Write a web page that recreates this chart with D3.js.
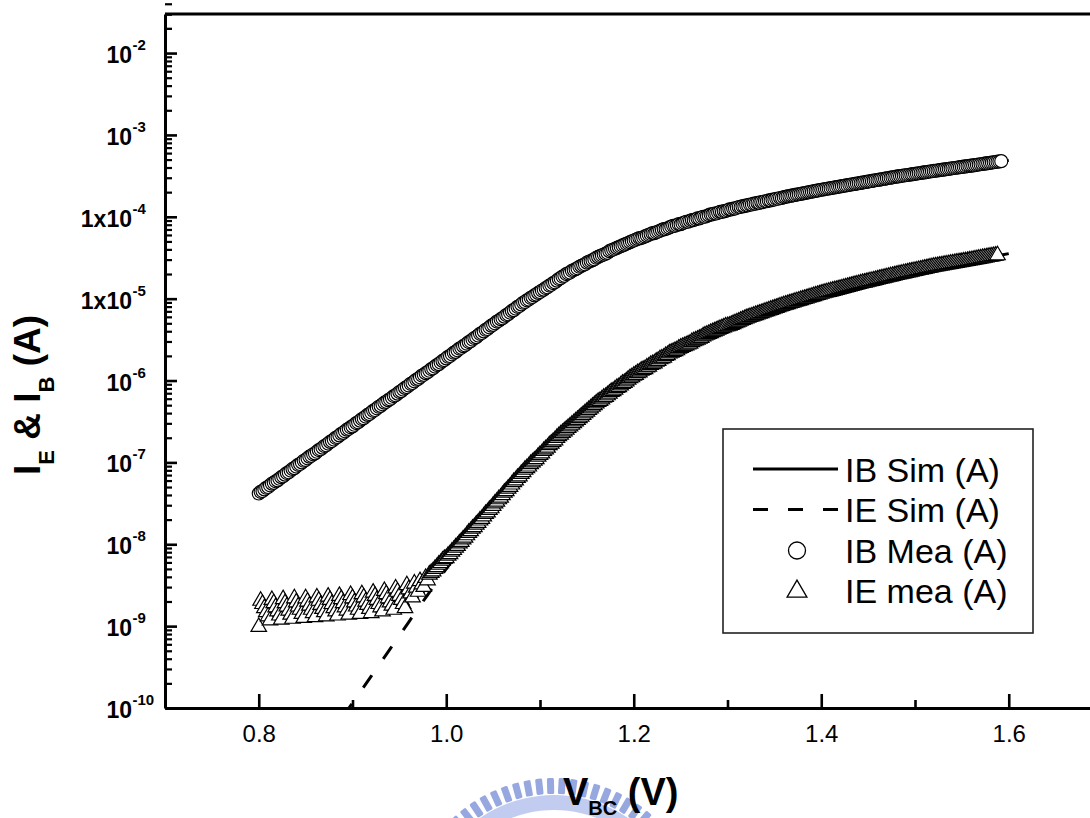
<!DOCTYPE html>
<html>
<head>
<meta charset="utf-8">
<script src="https://cdn.jsdelivr.net/npm/d3@7"></script>
<style>
  body { margin: 0; background: #fff; }
  svg { display: block; }
  text { font-family: "Liberation Sans", Arial, Helvetica, sans-serif; }
</style>
</head>
<body>
<svg id="chart" width="1090" height="818"></svg>
<script>
// Measured sweep: base-collector voltage (V), 2 mV steps
const voltage = [
  0.800,0.802,0.804,0.806,0.808,0.810,0.812,0.814,0.816,0.818,0.820,0.822,0.824,0.826,0.828,0.830,0.832,0.834,0.836,0.838,
  0.840,0.842,0.844,0.846,0.848,0.850,0.852,0.854,0.856,0.858,0.860,0.862,0.864,0.866,0.868,0.870,0.872,0.874,0.876,0.878,
  0.880,0.882,0.884,0.886,0.888,0.890,0.892,0.894,0.896,0.898,0.900,0.902,0.904,0.906,0.908,0.910,0.912,0.914,0.916,0.918,
  0.920,0.922,0.924,0.926,0.928,0.930,0.932,0.934,0.936,0.938,0.940,0.942,0.944,0.946,0.948,0.950,0.952,0.954,0.956,0.958,
  0.960,0.962,0.964,0.966,0.968,0.970,0.972,0.974,0.976,0.978,0.980,0.982,0.984,0.986,0.988,0.990,0.992,0.994,0.996,0.998,
  1.000,1.002,1.004,1.006,1.008,1.010,1.012,1.014,1.016,1.018,1.020,1.022,1.024,1.026,1.028,1.030,1.032,1.034,1.036,1.038,
  1.040,1.042,1.044,1.046,1.048,1.050,1.052,1.054,1.056,1.058,1.060,1.062,1.064,1.066,1.068,1.070,1.072,1.074,1.076,1.078,
  1.080,1.082,1.084,1.086,1.088,1.090,1.092,1.094,1.096,1.098,1.100,1.102,1.104,1.106,1.108,1.110,1.112,1.114,1.116,1.118,
  1.120,1.122,1.124,1.126,1.128,1.130,1.132,1.134,1.136,1.138,1.140,1.142,1.144,1.146,1.148,1.150,1.152,1.154,1.156,1.158,
  1.160,1.162,1.164,1.166,1.168,1.170,1.172,1.174,1.176,1.178,1.180,1.182,1.184,1.186,1.188,1.190,1.192,1.194,1.196,1.198,
  1.200,1.202,1.204,1.206,1.208,1.210,1.212,1.214,1.216,1.218,1.220,1.222,1.224,1.226,1.228,1.230,1.232,1.234,1.236,1.238,
  1.240,1.242,1.244,1.246,1.248,1.250,1.252,1.254,1.256,1.258,1.260,1.262,1.264,1.266,1.268,1.270,1.272,1.274,1.276,1.278,
  1.280,1.282,1.284,1.286,1.288,1.290,1.292,1.294,1.296,1.298,1.300,1.302,1.304,1.306,1.308,1.310,1.312,1.314,1.316,1.318,
  1.320,1.322,1.324,1.326,1.328,1.330,1.332,1.334,1.336,1.338,1.340,1.342,1.344,1.346,1.348,1.350,1.352,1.354,1.356,1.358,
  1.360,1.362,1.364,1.366,1.368,1.370,1.372,1.374,1.376,1.378,1.380,1.382,1.384,1.386,1.388,1.390,1.392,1.394,1.396,1.398,
  1.400,1.402,1.404,1.406,1.408,1.410,1.412,1.414,1.416,1.418,1.420,1.422,1.424,1.426,1.428,1.430,1.432,1.434,1.436,1.438,
  1.440,1.442,1.444,1.446,1.448,1.450,1.452,1.454,1.456,1.458,1.460,1.462,1.464,1.466,1.468,1.470,1.472,1.474,1.476,1.478,
  1.480,1.482,1.484,1.486,1.488,1.490,1.492,1.494,1.496,1.498,1.500,1.502,1.504,1.506,1.508,1.510,1.512,1.514,1.516,1.518,
  1.520,1.522,1.524,1.526,1.528,1.530,1.532,1.534,1.536,1.538,1.540,1.542,1.544,1.546,1.548,1.550,1.552,1.554,1.556,1.558,
  1.560,1.562,1.564,1.566,1.568,1.570,1.572,1.574,1.576,1.578,1.580,1.582,1.584,1.586,1.588,1.590,1.592
];

// Measured base current, log10(A)
const ibMeaLog = [
  -7.38,-7.36,-7.35,-7.33,-7.31,-7.30,-7.28,-7.26,-7.25,-7.23,-7.22,-7.20,-7.18,-7.17,-7.15,-7.13,-7.12,-7.10,-7.08,-7.07,
  -7.05,-7.03,-7.02,-7.00,-6.98,-6.97,-6.95,-6.93,-6.92,-6.90,-6.89,-6.87,-6.85,-6.84,-6.82,-6.80,-6.79,-6.77,-6.75,-6.74,
  -6.72,-6.70,-6.69,-6.67,-6.65,-6.64,-6.62,-6.60,-6.59,-6.57,-6.56,-6.54,-6.52,-6.51,-6.49,-6.47,-6.46,-6.44,-6.42,-6.41,
  -6.39,-6.37,-6.36,-6.34,-6.32,-6.31,-6.29,-6.27,-6.26,-6.24,-6.23,-6.21,-6.19,-6.18,-6.16,-6.14,-6.13,-6.11,-6.09,-6.08,
  -6.06,-6.04,-6.03,-6.01,-5.99,-5.98,-5.96,-5.94,-5.93,-5.91,-5.90,-5.88,-5.86,-5.85,-5.83,-5.81,-5.80,-5.78,-5.76,-5.75,
  -5.73,-5.71,-5.70,-5.68,-5.66,-5.65,-5.63,-5.61,-5.60,-5.58,-5.57,-5.55,-5.53,-5.52,-5.50,-5.48,-5.47,-5.45,-5.43,-5.42,
  -5.40,-5.38,-5.37,-5.35,-5.33,-5.32,-5.30,-5.28,-5.27,-5.25,-5.24,-5.22,-5.20,-5.19,-5.17,-5.15,-5.14,-5.12,-5.10,-5.09,
  -5.07,-5.05,-5.04,-5.02,-5.01,-4.99,-4.98,-4.96,-4.95,-4.93,-4.92,-4.90,-4.89,-4.87,-4.86,-4.84,-4.83,-4.81,-4.80,-4.78,
  -4.76,-4.75,-4.73,-4.72,-4.70,-4.69,-4.68,-4.66,-4.65,-4.64,-4.63,-4.61,-4.60,-4.59,-4.58,-4.56,-4.55,-4.54,-4.53,-4.52,
  -4.50,-4.49,-4.48,-4.47,-4.46,-4.45,-4.44,-4.42,-4.41,-4.40,-4.39,-4.38,-4.37,-4.36,-4.35,-4.34,-4.33,-4.32,-4.31,-4.30,
  -4.29,-4.28,-4.27,-4.26,-4.26,-4.25,-4.24,-4.23,-4.22,-4.21,-4.20,-4.20,-4.19,-4.18,-4.17,-4.16,-4.15,-4.15,-4.14,-4.13,
  -4.12,-4.11,-4.11,-4.10,-4.09,-4.09,-4.08,-4.07,-4.06,-4.06,-4.05,-4.04,-4.04,-4.03,-4.02,-4.02,-4.01,-4.00,-4.00,-3.99,
  -3.98,-3.97,-3.97,-3.96,-3.96,-3.95,-3.94,-3.94,-3.93,-3.93,-3.92,-3.91,-3.91,-3.90,-3.90,-3.89,-3.88,-3.88,-3.87,-3.87,
  -3.86,-3.86,-3.85,-3.85,-3.84,-3.84,-3.83,-3.83,-3.82,-3.82,-3.81,-3.81,-3.80,-3.80,-3.79,-3.79,-3.78,-3.78,-3.77,-3.77,
  -3.760,-3.756,-3.751,-3.747,-3.742,-3.738,-3.733,-3.729,-3.724,-3.720,-3.715,-3.711,-3.706,-3.702,-3.697,-3.693,-3.688,-3.684,-3.679,-3.675,
  -3.670,-3.666,-3.662,-3.658,-3.654,-3.650,-3.646,-3.642,-3.638,-3.634,-3.630,-3.626,-3.622,-3.618,-3.614,-3.610,-3.606,-3.602,-3.598,-3.594,
  -3.590,-3.586,-3.582,-3.578,-3.574,-3.570,-3.566,-3.562,-3.558,-3.554,-3.550,-3.546,-3.542,-3.538,-3.534,-3.530,-3.526,-3.522,-3.518,-3.514,
  -3.510,-3.507,-3.503,-3.500,-3.496,-3.493,-3.489,-3.486,-3.482,-3.479,-3.475,-3.472,-3.468,-3.465,-3.461,-3.458,-3.454,-3.451,-3.447,-3.444,
  -3.440,-3.437,-3.434,-3.430,-3.427,-3.424,-3.420,-3.417,-3.414,-3.411,-3.407,-3.404,-3.401,-3.398,-3.394,-3.391,-3.388,-3.385,-3.381,-3.378,
  -3.375,-3.372,-3.368,-3.365,-3.361,-3.358,-3.355,-3.351,-3.348,-3.344,-3.341,-3.338,-3.334,-3.331,-3.327,-3.324,-3.320
];

// Measured emitter current, log10(A)
const ieMeaLog = [
  -9.01,-8.69,-8.73,-8.78,-8.83,-8.88,-8.93,-8.68,-8.72,-8.77,-8.82,-8.87,-8.92,-8.67,-8.72,-8.76,-8.81,-8.86,-8.91,-8.66,
  -8.71,-8.76,-8.80,-8.85,-8.90,-8.66,-8.70,-8.75,-8.80,-8.84,-8.89,-8.65,-8.69,-8.74,-8.79,-8.83,-8.88,-8.64,-8.68,-8.73,
  -8.78,-8.82,-8.87,-8.63,-8.67,-8.72,-8.77,-8.81,-8.86,-8.62,-8.66,-8.71,-8.76,-8.80,-8.85,-8.61,-8.65,-8.70,-8.74,-8.79,
  -8.84,-8.59,-8.63,-8.68,-8.73,-8.77,-8.82,-8.57,-8.61,-8.66,-8.71,-8.75,-8.80,-8.54,-8.58,-8.63,-8.68,-8.73,-8.78,-8.50,
  -8.55,-8.60,-8.65,-8.48,-8.53,-8.58,-8.45,-8.49,-8.52,-8.41,-8.44,-8.37,-8.35,-8.33,-8.30,-8.28,-8.25,-8.23,-8.20,-8.18,
  -8.17,-8.14,-8.12,-8.09,-8.07,-8.04,-8.02,-7.99,-7.97,-7.94,-7.92,-7.89,-7.86,-7.84,-7.81,-7.79,-7.76,-7.74,-7.71,-7.69,
  -7.66,-7.63,-7.61,-7.58,-7.56,-7.53,-7.50,-7.48,-7.45,-7.43,-7.40,-7.37,-7.35,-7.32,-7.30,-7.27,-7.24,-7.22,-7.19,-7.17,
  -7.14,-7.12,-7.09,-7.07,-7.05,-7.02,-7.00,-6.98,-6.96,-6.93,-6.91,-6.89,-6.86,-6.84,-6.82,-6.79,-6.77,-6.75,-6.73,-6.70,
  -6.68,-6.66,-6.64,-6.62,-6.60,-6.58,-6.56,-6.54,-6.52,-6.50,-6.48,-6.46,-6.44,-6.42,-6.40,-6.38,-6.36,-6.34,-6.32,-6.30,
  -6.28,-6.26,-6.25,-6.23,-6.21,-6.20,-6.18,-6.16,-6.14,-6.13,-6.11,-6.09,-6.08,-6.06,-6.04,-6.03,-6.01,-5.99,-5.97,-5.96,
  -5.94,-5.93,-5.91,-5.90,-5.88,-5.87,-5.86,-5.84,-5.83,-5.81,-5.80,-5.79,-5.77,-5.76,-5.74,-5.73,-5.72,-5.70,-5.69,-5.67,
  -5.66,-5.65,-5.64,-5.63,-5.61,-5.60,-5.59,-5.58,-5.57,-5.56,-5.55,-5.53,-5.52,-5.51,-5.50,-5.49,-5.48,-5.46,-5.45,-5.44,
  -5.43,-5.42,-5.41,-5.40,-5.39,-5.38,-5.37,-5.36,-5.35,-5.34,-5.335,-5.33,-5.32,-5.31,-5.30,-5.29,-5.28,-5.27,-5.26,-5.25,
  -5.240,-5.232,-5.224,-5.216,-5.208,-5.200,-5.192,-5.184,-5.176,-5.168,-5.160,-5.152,-5.144,-5.136,-5.128,-5.120,-5.112,-5.104,-5.096,-5.088,
  -5.080,-5.073,-5.066,-5.059,-5.052,-5.045,-5.038,-5.031,-5.024,-5.017,-5.010,-5.003,-4.996,-4.989,-4.982,-4.975,-4.968,-4.961,-4.954,-4.947,
  -4.940,-4.934,-4.928,-4.922,-4.916,-4.910,-4.904,-4.898,-4.892,-4.886,-4.880,-4.874,-4.868,-4.862,-4.856,-4.850,-4.844,-4.838,-4.832,-4.826,
  -4.820,-4.815,-4.809,-4.804,-4.798,-4.793,-4.787,-4.782,-4.776,-4.771,-4.765,-4.760,-4.754,-4.749,-4.743,-4.738,-4.732,-4.727,-4.721,-4.716,
  -4.710,-4.705,-4.700,-4.695,-4.690,-4.685,-4.680,-4.675,-4.670,-4.665,-4.660,-4.655,-4.650,-4.645,-4.640,-4.635,-4.630,-4.625,-4.620,-4.615,
  -4.610,-4.606,-4.602,-4.598,-4.594,-4.590,-4.586,-4.582,-4.578,-4.574,-4.570,-4.566,-4.562,-4.558,-4.554,-4.550,-4.546,-4.542,-4.538,-4.534,
  -4.530,-4.526,-4.521,-4.517,-4.513,-4.509,-4.504,-4.500,-4.496,-4.491,-4.487,-4.483,-4.479,-4.474,-4.470
];

// Simulated base current
const ibSimV   = [0.80,0.84,0.88,0.92,0.96,1.00,1.04,1.08,1.12,1.16,1.20,1.24,1.28,1.32,1.36,1.40,1.44,1.48,1.52,1.56,1.60];
const ibSimLog = [-7.38,-7.05,-6.72,-6.39,-6.06,-5.73,-5.40,-5.07,-4.76,-4.50,-4.29,-4.12,-3.98,-3.86,-3.76,-3.67,-3.59,-3.51,-3.44,-3.375,-3.31];

// Simulated emitter current
const ieSimV   = [0.89,0.90,0.92,0.94,0.96,0.98,1.00,1.02,1.04,1.06,1.08,1.12,1.16,1.20,1.24,1.28,1.32,1.36,1.40,1.44,1.48,1.52,1.56,1.60];
const ieSimLog = [-10.10,-9.94,-9.61,-9.28,-8.95,-8.62,-8.30,-7.99,-7.70,-7.42,-7.16,-6.69,-6.29,-5.95,-5.67,-5.44,-5.25,-5.09,-4.95,-4.83,-4.72,-4.62,-4.54,-4.45];

// Axis ticks and labels
const xMajorTicks = [0.8, 1.0, 1.2, 1.4, 1.6];
const xMinorTicks = [0.7, 0.9, 1.1, 1.3, 1.5, 1.7];
const yMajorTicks = [1e-2, 1e-3, 1e-4, 1e-5, 1e-6, 1e-7, 1e-8, 1e-9, 1e-10];
const yTickBase   = ["10", "10", "1x10", "1x10", "10", "10", "10", "10", "10"];
const yTickExp    = ["-2", "-3", "-4", "-5", "-6", "-7", "-8", "-9", "-10"];
const legendLabels = ["IB Sim (A)", "IE Sim (A)", "IB Mea (A)", "IE mea (A)"];

const svg = d3.select("#chart");
const plotL = 165, plotR = 1102.5, plotT = 14, plotB = 708;

const x = d3.scaleLinear().domain([0.7, 1.7]).range([plotL, plotR]);
const y = d3.scaleLog().domain([1e-10, 0.03]).range([plotB, plotT]);

// ---- watermark emblem behind the x title
const wm = svg.append("g").attr("opacity", 0.85);
const wmCx = 554, wmCy = 926;
const toothAngles = d3.range(-52, 53, 4.6);
wm.append("path")
  .attr("d", d3.arc()({innerRadius: 116, outerRadius: 131, startAngle: -0.95, endAngle: 0.95}))
  .attr("transform", `translate(${wmCx},${wmCy})`)
  .attr("fill", "#b7c4ee");
wm.selectAll("rect.tooth").data(toothAngles).join("rect")
  .attr("class", "tooth")
  .attr("x", -3.5).attr("y", -148).attr("width", 7).attr("height", 16).attr("rx", 1.5)
  .attr("transform", d => `translate(${wmCx},${wmCy}) rotate(${d})`)
  .attr("fill", "#8699db");

// ---- clip region for the plot interior
svg.append("defs").append("clipPath").attr("id", "plotClip")
  .append("rect").attr("x", plotL).attr("y", plotT).attr("width", plotR - plotL).attr("height", plotB - plotT);

const plot = svg.append("g").attr("clip-path", "url(#plotClip)");

const line = d3.line()
  .x(d => x(d[0]))
  .y(d => y(d[1]))
  .curve(d3.curveMonotoneX);

const ibSim = ibSimV.map((v, i) => [v, Math.pow(10, ibSimLog[i])]);
const ieSim = ieSimV.map((v, i) => [v, Math.pow(10, ieSimLog[i])]);
const ibMea = ibMeaLog.map((l, i) => [voltage[i], Math.pow(10, l)]);
const ieMea = ieMeaLog.map((l, i) => [voltage[i], Math.pow(10, l)]);

plot.append("path").datum(ibSim).attr("d", line)
  .attr("fill", "none").attr("stroke", "#000").attr("stroke-width", 3);
plot.append("path").datum(ieSim).attr("d", line)
  .attr("fill", "none").attr("stroke", "#000").attr("stroke-width", 3)
  .attr("stroke-dasharray", "15,20");

plot.append("g").selectAll("circle").data(ibMea).join("circle")
  .attr("cx", d => x(d[0])).attr("cy", d => y(d[1])).attr("r", 6.5)
  .attr("fill", "#fff").attr("stroke", "#000").attr("stroke-width", 1.15);

const tri = d3.symbol(d3.symbolTriangle, 105);
plot.append("g").selectAll("path").data(ieMea).join("path")
  .attr("d", tri)
  .attr("transform", d => `translate(${x(d[0])},${y(d[1])})`)
  .attr("fill", "#fff").attr("stroke", "#000").attr("stroke-width", 1.2);

// ---- axes
function styleAxis(g, width) {
  g.select(".domain").attr("stroke-width", width).attr("stroke", "#000");
  g.selectAll(".tick line").attr("stroke-width", 2.6).attr("stroke", "#000");
}

const xMajor = svg.append("g").attr("transform", `translate(0,${plotB})`)
  .call(d3.axisBottom(x).tickValues(xMajorTicks).tickFormat(d3.format(".1f"))
    .tickSizeInner(-14).tickSizeOuter(0).tickPadding(17));
styleAxis(xMajor, 3);
xMajor.selectAll(".tick text").attr("font-size", 24).attr("fill", "#000")
  .attr("font-family", "'Liberation Sans', Arial, sans-serif");

const xMinor = svg.append("g").attr("transform", `translate(0,${plotB})`)
  .call(d3.axisBottom(x).tickValues(xMinorTicks).tickFormat("").tickSizeInner(-8).tickSizeOuter(0));
xMinor.select(".domain").remove();
styleAxis(xMinor, 3);

const yMinorTicks = [];
d3.range(-10, -1).forEach(e => d3.range(2, 10).forEach(m => yMinorTicks.push(m * Math.pow(10, e))));
yMinorTicks.push(2e-2, 3e-2);

const yMajor = svg.append("g").attr("transform", `translate(${plotL},0)`)
  .call(d3.axisLeft(y).tickValues(yMajorTicks).tickFormat("").tickSizeInner(-12).tickSizeOuter(0));
styleAxis(yMajor, 3);

const yMinor = svg.append("g").attr("transform", `translate(${plotL},0)`)
  .call(d3.axisLeft(y).tickValues(yMinorTicks).tickFormat("").tickSizeInner(-7).tickSizeOuter(0));
yMinor.select(".domain").remove();
styleAxis(yMinor, 3);
yMinor.selectAll(".tick line").attr("stroke-width", 2.2);

// y tick labels with superscript exponents
const yLab = svg.append("g").attr("font-weight", "bold").attr("fill", "#000");
yMajorTicks.forEach((t, i) => {
  const ty = y(t);
  yLab.append("text").attr("x", 132).attr("y", ty + 10)
    .attr("text-anchor", "end").attr("font-size", 23).text(yTickBase[i]);
  yLab.append("text").attr("x", 132.5).attr("y", ty - 3)
    .attr("text-anchor", "start").attr("font-size", 15).text(yTickExp[i]);
});

// top frame line
svg.append("line").attr("x1", plotL).attr("x2", plotR).attr("y1", plotT).attr("y2", plotT)
  .attr("stroke", "#000").attr("stroke-width", 3);

// ---- axis titles
const yTitle = svg.append("text")
  .attr("transform", "translate(40,395) rotate(-90)")
  .attr("text-anchor", "middle").attr("font-weight", "bold").attr("font-size", 37);
yTitle.append("tspan").text("I");
yTitle.append("tspan").attr("font-size", 22).attr("dy", 14).text("E");
yTitle.append("tspan").attr("dy", -14).text(" & I");
yTitle.append("tspan").attr("font-size", 22).attr("dy", 14).text("B");
yTitle.append("tspan").attr("dy", -14).text(" (A)");

const xTitle = svg.append("text")
  .attr("x", 563).attr("y", 805)
  .attr("font-weight", "bold").attr("font-size", 38);
xTitle.append("tspan").text("V");
xTitle.append("tspan").attr("font-size", 20).attr("dy", 10).text("BC");
xTitle.append("tspan").attr("dy", -10).text(" (V)");

// ---- legend
const lg = svg.append("g");
lg.append("rect").attr("x", 723).attr("y", 429).attr("width", 310).attr("height", 204)
  .attr("fill", "#fff").attr("stroke", "#222").attr("stroke-width", 1.6);
const rowY = [469, 509.5, 550.5, 590.5];
lg.append("line").attr("x1", 753).attr("x2", 838).attr("y1", rowY[0]).attr("y2", rowY[0])
  .attr("stroke", "#000").attr("stroke-width", 3);
lg.append("line").attr("x1", 753).attr("x2", 838).attr("y1", rowY[1]).attr("y2", rowY[1])
  .attr("stroke", "#000").attr("stroke-width", 3).attr("stroke-dasharray", "15,20");
lg.append("circle").attr("cx", 797).attr("cy", rowY[2]).attr("r", 8.5)
  .attr("fill", "#fff").attr("stroke", "#000").attr("stroke-width", 1.3);
lg.append("path").attr("d", d3.symbol(d3.symbolTriangle, 170))
  .attr("transform", `translate(797,${rowY[3] + 1})`)
  .attr("fill", "#fff").attr("stroke", "#000").attr("stroke-width", 1.3);
lg.selectAll("text").data(legendLabels).join("text")
  .attr("x", 845).attr("y", (d, i) => rowY[i] + 12.5)
  .attr("font-size", 34).attr("fill", "#000").text(d => d);
</script>
</body>
</html>
